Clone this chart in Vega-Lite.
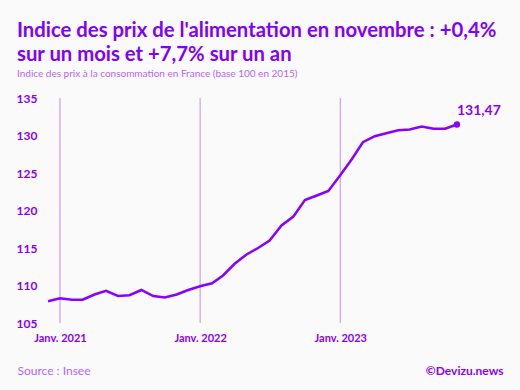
{
  "$schema": "https://vega.github.io/schema/vega-lite/v6.json",
  "autosize": "none",
  "width": 425,
  "height": 225,
  "padding": {"left": 45, "top": 98, "right": 50, "bottom": 67},
  "background": "#fafafa",
  "title": {
    "text": ["Indice des prix de l'alimentation en novembre : +0,4%", "sur un mois et +7,7% sur un an"],
    "subtitle": "Indice des prix à la consommation en France (base 100 en 2015)",
    "anchor": "start",
    "frame": "group",
    "dx": -28,
    "font": "Lato",
    "fontSize": 20.3,
    "fontWeight": "bold",
    "color": "#8000ff",
    "lineHeight": 24,
    "subtitleFont": "Lato",
    "subtitleFontSize": 10,
    "subtitleColor": "#b366ff",
    "subtitlePadding": 4,
    "offset": 13
  },
  "datasets": {
    "series": [
      {"date": "2020-12-01", "value": 107.9},
      {"date": "2021-01-01", "value": 108.3},
      {"date": "2021-02-01", "value": 108.1},
      {"date": "2021-03-01", "value": 108.1},
      {"date": "2021-04-01", "value": 108.8},
      {"date": "2021-05-01", "value": 109.3},
      {"date": "2021-06-01", "value": 108.6},
      {"date": "2021-07-01", "value": 108.7},
      {"date": "2021-08-01", "value": 109.4},
      {"date": "2021-09-01", "value": 108.6},
      {"date": "2021-10-01", "value": 108.4},
      {"date": "2021-11-01", "value": 108.8},
      {"date": "2021-12-01", "value": 109.4},
      {"date": "2022-01-01", "value": 109.9},
      {"date": "2022-02-01", "value": 110.3},
      {"date": "2022-03-01", "value": 111.3},
      {"date": "2022-04-01", "value": 112.9},
      {"date": "2022-05-01", "value": 114.1},
      {"date": "2022-06-01", "value": 115.0},
      {"date": "2022-07-01", "value": 116.0},
      {"date": "2022-08-01", "value": 118.0},
      {"date": "2022-09-01", "value": 119.2},
      {"date": "2022-10-01", "value": 121.4},
      {"date": "2022-11-01", "value": 122.0},
      {"date": "2022-12-01", "value": 122.6},
      {"date": "2023-01-01", "value": 124.7},
      {"date": "2023-02-01", "value": 126.9},
      {"date": "2023-03-01", "value": 129.1},
      {"date": "2023-04-01", "value": 129.9},
      {"date": "2023-05-01", "value": 130.3},
      {"date": "2023-06-01", "value": 130.7},
      {"date": "2023-07-01", "value": 130.8},
      {"date": "2023-08-01", "value": 131.2},
      {"date": "2023-09-01", "value": 130.9},
      {"date": "2023-10-01", "value": 130.9},
      {"date": "2023-11-01", "value": 131.47}
    ],
    "years": [
      {"date": "2021-01-01"},
      {"date": "2022-01-01"},
      {"date": "2023-01-01"}
    ],
    "last": [
      {"date": "2023-11-01", "value": 131.47, "label": "131,47"}
    ]
  },
  "layer": [
    {
      "data": {"name": "years"},
      "mark": {"type": "rule", "color": "#c08cff", "strokeWidth": 1},
      "encoding": {
        "x": {"field": "date", "type": "temporal"}
      }
    },
    {
      "data": {"name": "series"},
      "mark": {"type": "line", "color": "#8a00ff", "strokeWidth": 2.5},
      "encoding": {
        "x": {
          "field": "date",
          "type": "temporal",
          "scale": {"domain": ["2020-11-23", "2023-12-05"]},
          "axis": {
            "values": ["2021-01-01", "2022-01-01", "2023-01-01"],
            "labelExpr": "'Janv. ' + timeFormat(datum.value, '%Y')",
            "labelOverlap": false,
            "grid": false,
            "domain": false,
            "ticks": false,
            "labelFont": "Lato",
            "labelFontSize": 11,
            "labelFontWeight": "bold",
            "labelColor": "#8a00ff",
            "labelPadding": 9,
            "title": "Source : Insee",
            "titleX": -28,
            "titleY": 51,
            "titleAlign": "left",
            "titleBaseline": "alphabetic",
            "titleFont": "Lato",
            "titleFontSize": 12,
            "titleFontWeight": "normal",
            "titleColor": "#b366ff"
          }
        },
        "y": {
          "field": "value",
          "type": "quantitative",
          "scale": {"domain": [105, 135], "nice": false, "zero": false},
          "axis": {
            "values": [105, 110, 115, 120, 125, 130, 135],
            "tickCount": 20,
            "labelOverlap": false,
            "grid": false,
            "domain": false,
            "ticks": false,
            "labelFont": "Lato",
            "labelFontSize": 12,
            "labelFontWeight": "bold",
            "labelColor": "#8a00ff",
            "labelPadding": 8,
            "title": "©Devizu.news",
            "titleAngle": 0,
            "titleX": 458,
            "titleY": 276,
            "titleAlign": "right",
            "titleBaseline": "alphabetic",
            "titleFont": "Lato",
            "titleFontSize": 12,
            "titleFontWeight": "bold",
            "titleColor": "#8a00ff"
          }
        }
      }
    },
    {
      "data": {"name": "last"},
      "mark": {"type": "point", "filled": true, "opacity": 1, "size": 40, "color": "#8a00ff"},
      "encoding": {
        "x": {"field": "date", "type": "temporal"},
        "y": {"field": "value", "type": "quantitative"}
      }
    },
    {
      "data": {"name": "last"},
      "mark": {"type": "text", "align": "left", "baseline": "alphabetic", "dx": 0, "dy": -9, "font": "Lato", "fontSize": 14, "fontWeight": "bold", "color": "#8a00ff"},
      "encoding": {
        "x": {"field": "date", "type": "temporal"},
        "y": {"field": "value", "type": "quantitative"},
        "text": {"field": "label"}
      }
    }
  ],
  "config": {"view": {"stroke": null}}
}
